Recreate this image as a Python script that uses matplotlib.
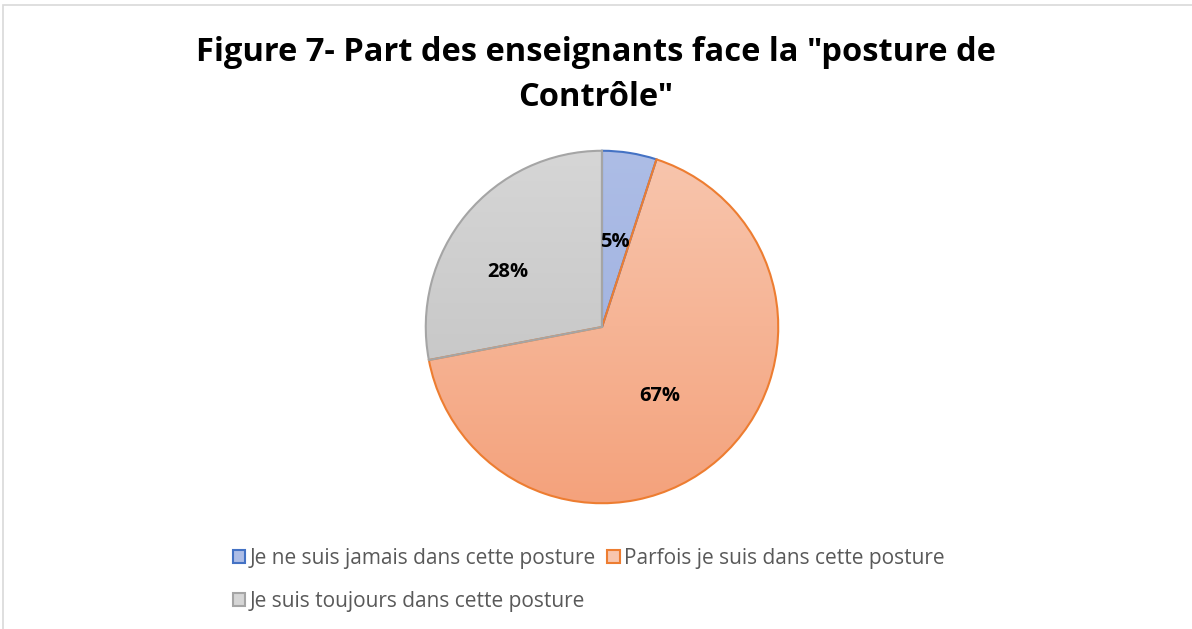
import matplotlib
matplotlib.use("Agg")
import matplotlib.pyplot as plt
import numpy as np
from matplotlib.patches import Rectangle
from matplotlib.colors import LinearSegmentedColormap

title = 'Figure 7- Part des enseignants face la "posture de\nContrôle"'
categories = ["Je ne suis jamais dans cette posture",
              "Parfois je suis dans cette posture",
              "Je suis toujours dans cette posture"]
values = [5, 67, 28]
labels = ["5%", "67%", "28%"]
edge_colors = ["#4472c4", "#ed7d31", "#a5a5a5"]
top_colors = ["#adbde6", "#f8c6ae", "#d6d6d6"]
bottom_colors = ["#9aaddd", "#f4a27c", "#bfbfbf"]

W, H = 1192, 629
fig = plt.figure(figsize=(W / 100, H / 100), dpi=100)
fig.patch.set_facecolor("white")

# chart border
fig.patches.append(Rectangle((3 / W, -0.05), 1.2, (629 - 5) / H + 0.05,
                             transform=fig.transFigure, fill=False,
                             edgecolor="#d9d9d9", linewidth=1.2))

cx, cy, r = 602, H - 327, 178
ax = fig.add_axes([(cx - r) / W, (cy - r) / H, 2 * r / W, 2 * r / H])
ax.axis("off")

wedges, _ = ax.pie(values, startangle=90, counterclock=False, radius=1.0,
                   colors=top_colors,
                   wedgeprops=dict(linewidth=1.5, edgecolor="none"))
ax.set_xlim(-1.01, 1.01)
ax.set_ylim(-1.01, 1.01)

grad = np.linspace(0, 1, 256).reshape(-1, 1)
for w, tc, bc, ec in zip(wedges, top_colors, bottom_colors, edge_colors):
    cmap = LinearSegmentedColormap.from_list("g", [tc, bc])
    im = ax.imshow(grad, cmap=cmap, extent=[-1, 1, -1, 1], origin="upper",
                   aspect="auto", zorder=1)
    im.set_clip_path(w)
    w.set_facecolor("none")
    w.set_edgecolor(ec)
    w.set_zorder(2)

# data labels
label_pos = [(615, 241), (660, 397), (507, 271)]
for (px, py), lab in zip(label_pos, labels):
    ax.text((px - cx) / r, ((H - py) - cy) / r,
            lab, ha="center", va="center", fontsize=14.5, fontweight="bold",
            family="Open Sans", color="black", zorder=3)

fig.text(596 / W, (H - 75) / H, title, ha="center", va="center",
         fontsize=23.5, fontweight="bold", family="Open Sans",
         color="black", linespacing=1.45)

# legend (order so rows read: item0 item1 / item2)
handles = [Rectangle((0, 0), 1, 1, facecolor=tc, edgecolor=ec, linewidth=1.5)
           for tc, ec in zip(top_colors, edge_colors)]
order = [0, 2, 1]
leg = fig.legend([handles[i] for i in order], [categories[i] for i in order],
                 ncol=2, loc="upper left", bbox_to_anchor=(214 / W, (H - 529) / H),
                 frameon=False, handlelength=0.6, handleheight=0.6,
                 handletextpad=0.2, columnspacing=0.55, labelspacing=1.05,
                 prop=dict(family="Open Sans", size=15.0))
for t in leg.get_texts():
    t.set_color("#595959")

fig.savefig("out.png", dpi=100)
